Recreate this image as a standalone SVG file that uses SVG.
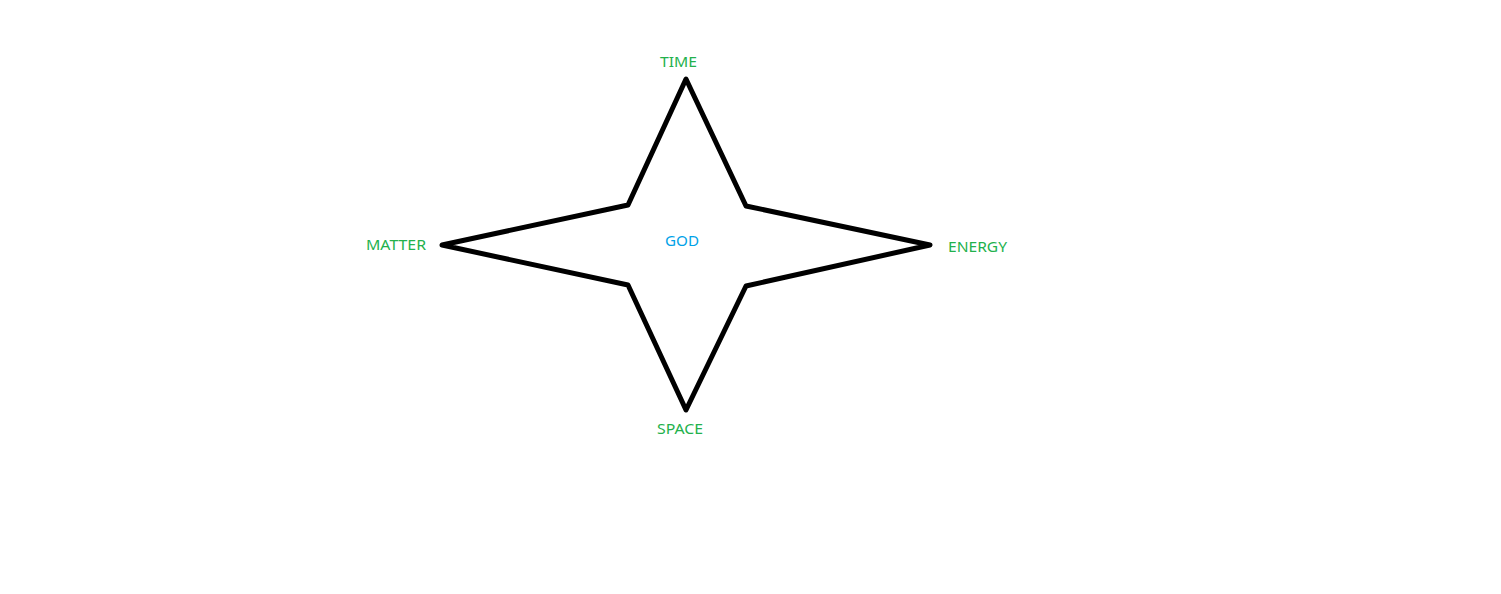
<svg xmlns="http://www.w3.org/2000/svg" width="1501" height="594" viewBox="0 0 1501 594">
<style>
.lbl{font-family:"Noto Sans","Liberation Sans",sans-serif;font-size:15px;fill:#22b14c}
.god{font-family:"Noto Sans","Liberation Sans",sans-serif;font-size:15px;fill:#00a2e8}
.star{fill:none;stroke:#000;stroke-width:5;stroke-linejoin:round}
</style>
<rect width="1501" height="594" fill="#fff"/>
<g id="star">
<polygon class="star" points="686,79 746,206 930,245 746,286 686,410 628,285 442,245 628,205"/>
</g>
<g id="time"><text class="lbl" x="660" y="67" textLength="37" lengthAdjust="spacingAndGlyphs">TIME</text></g>
<g id="matter"><text class="lbl" x="366" y="250" textLength="60" lengthAdjust="spacingAndGlyphs">MATTER</text></g>
<g id="energy"><text class="lbl" x="948" y="252" textLength="59" lengthAdjust="spacingAndGlyphs">ENERGY</text></g>
<g id="space"><text class="lbl" x="657" y="434" textLength="46" lengthAdjust="spacingAndGlyphs">SPACE</text></g>
<g id="god"><text class="god" x="665" y="246" textLength="34" lengthAdjust="spacingAndGlyphs">GOD</text></g>
</svg>
